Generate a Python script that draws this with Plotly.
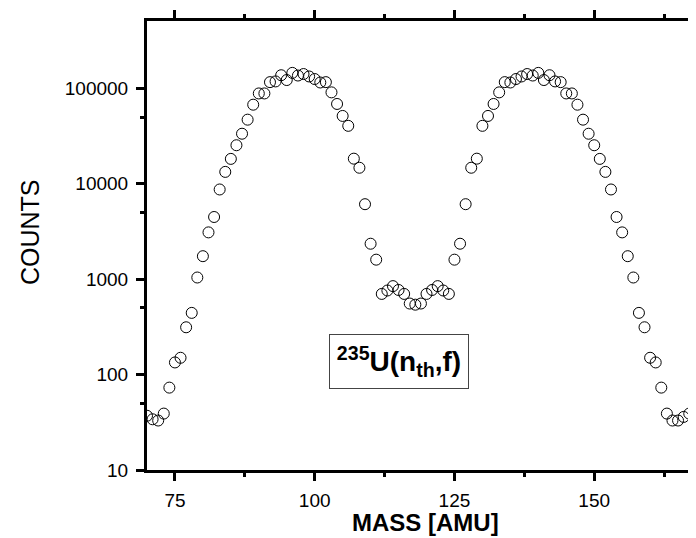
import plotly.graph_objects as go

# ---- data ----
mass = list(range(70, 170))
counts = [
    37, 34, 33, 39, 73, 134, 150, 313, 443, 1040,
    1740, 3090, 4480, 8700, 13300, 18200, 25300, 33400, 46900, 67300,
    88300, 88300, 116000, 118000, 137000, 122000, 145000, 136000, 141000, 133000,
    125000, 115000, 116000, 90600, 68500, 51300, 40400, 18300, 14700, 6100,
    2350, 1600, 700, 760, 845, 770, 700, 555, 540, 555,
    700, 770, 845, 760, 700, 1600, 2350, 6100, 14700, 18300,
    40400, 51300, 68500, 90600, 116000, 115000, 125000, 133000, 141000, 136000,
    145000, 122000, 137000, 118000, 116000, 88300, 88300, 67300, 46900, 33400,
    25300, 18200, 13300, 8700, 4480, 3090, 1740, 1040, 443, 313,
    150, 134, 73, 39, 33, 33, 36, 39, 15, 15,
]
x_ticks = [75, 100, 125, 150]
x_minor = [87.5, 112.5, 137.5, 162.5]
y_ticks = [10, 100, 1000, 10000, 100000]
y_tick_text = ["10", "100", "1000", "10000", "100000"]
y_minor = [50, 500, 5000, 50000]

FONT = "Liberation Sans, Arial, sans-serif"

fig = go.Figure()
fig.add_trace(go.Scatter(
    x=mass, y=counts, mode="markers",
    marker=dict(symbol="circle-open", size=11, color="black", line=dict(width=1, color="black")),
    showlegend=False,
))

fig.update_layout(
    width=696, height=538,
    margin=dict(l=139, r=0, t=13, b=76),
    paper_bgcolor="white", plot_bgcolor="white",
    font=dict(family=FONT, color="black"),
    xaxis=dict(
        range=[70, 169.64], showgrid=False, zeroline=False,
        showline=True, linecolor="black", linewidth=3, mirror="ticks",
        tickmode="array", tickvals=x_ticks, ticks="outside", ticklen=8, tickwidth=2.5,
        tickcolor="black", tickfont=dict(size=19, family=FONT), ticklabelstandoff=3,
        minor=dict(tickmode="array", tickvals=x_minor, ticks="outside", ticklen=4,
                   tickwidth=2.5, tickcolor="black", showgrid=False),
    ),
    yaxis=dict(
        type="log", range=[1, 5.705], showgrid=False, zeroline=False,
        showline=True, linecolor="black", linewidth=3, mirror=False,
        tickmode="array", tickvals=y_ticks, ticktext=y_tick_text,
        ticks="outside", ticklen=8, tickwidth=2.5, tickcolor="black",
        tickfont=dict(size=19, family=FONT), ticklabelstandoff=4,
        minor=dict(tickmode="array", tickvals=y_minor, ticks="outside", ticklen=4,
                   tickwidth=2.5, tickcolor="black", showgrid=False),
    ),
    annotations=[
        dict(text="COUNTS", textangle=-90, xref="paper", yref="paper",
             x=-0.21, y=0.53, xanchor="center", yanchor="middle", showarrow=False,
             font=dict(size=25, family=FONT)),
        dict(text="<b>MASS [AMU]</b>", xref="paper", yref="paper",
             x=0.5, y=-0.117, xanchor="center", yanchor="middle", showarrow=False,
             font=dict(size=24, family=FONT)),
        dict(text="<b><sup>235</sup>U(n<sub>th</sub>,f)</b>", xref="paper", yref="paper",
             x=(391 - 139) / 557, y=(462 - 353.5) / 449, xanchor="center", yanchor="middle",
             showarrow=False, font=dict(size=28, family=FONT),
             bordercolor="#444444", borderwidth=1, borderpad=0,
             width=138, height=53, bgcolor="white"),
    ],
)

fig.write_html("out.html")
